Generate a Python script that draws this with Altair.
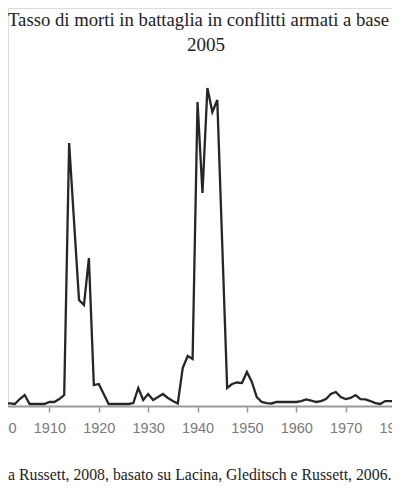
import altair as alt
import pandas as pd

# Estimated battle-death rate (per 100,000 people)
years = list(range(1900, 1982))
rate = [
    0.9, 0.9, 0.5, 0.0, 4.7, 8.5, 0.0, 0.0, 0.0, 0.0,          # 1900-1909
    1.9, 1.9, 4.7, 8.5, 247.8, 172.8, 98.7, 94.0, 138.6, 18.0,  # 1910-1919
    19.0, 9.5, 0.0, 0.0, 0.0, 0.0, 0.0, 0.9, 15.2, 3.8,         # 1920-1929
    9.5, 3.8, 6.6, 9.5, 5.7, 2.8, 0.5, 34.2, 45.6, 42.7,        # 1930-1939
    286.7, 200.3, 300.0, 277.2, 288.6, 151.9, 15.2, 19.0, 20.4, 19.9,  # 1940-1949
    30.4, 20.9, 6.6, 1.9, 0.9, 0.5, 1.9, 1.9, 1.9, 1.9,         # 1950-1959
    1.9, 2.8, 4.3, 3.3, 1.9, 2.8, 4.7, 9.5, 11.4, 6.6,          # 1960-1969
    4.7, 5.7, 8.5, 4.7, 4.3, 2.8, 0.9, 0.0, 2.8, 2.8,           # 1970-1979
    2.4, 3.3,                                                   # 1980-1981
]
tick_years = [1900, 1910, 1920, 1930, 1940, 1950, 1960, 1970, 1980]

title_line1 = "Tasso di morti in battaglia in conflitti armati a base"
title_line2 = "2005"
caption = "a Russett, 2008, basato su Lacina, Gleditsch e Russett, 2006."

df = pd.DataFrame({"anno": years, "tasso": rate})

W = 384
line = alt.Chart(df).mark_line(color="#262626", strokeWidth=2.3, strokeJoin="miter").encode(
    x=alt.X(
        "anno:Q",
        scale=alt.Scale(domain=[1900, 1981], range=[-8, 392], nice=False, zero=False),
        axis=alt.Axis(
            values=tick_years,
            format="d",
            title=None,
            grid=False,
            domainColor="#9a9a9a",
            domainWidth=2,
            tickColor="#9a9a9a",
            tickWidth=1.5,
            tickSize=6,
            labelFont="Liberation Sans",
            labelFontSize=14.5,
            labelColor="#7a7a7a",
            labelPadding=9,
            labelFlush=False,
            labelOverlap=False,
        ),
    ),
    y=alt.Y(
        "tasso:Q",
        scale=alt.Scale(domain=[-1.9, 376], nice=False, zero=False),
        axis=None,
    ),
)

def text_layer(txt, x, y, size, align):
    return alt.Chart(pd.DataFrame({"t": [txt]})).mark_text(
        font="Liberation Serif",
        fontSize=size,
        color="#222222",
        align=align,
        baseline="alphabetic",
    ).encode(x=alt.value(x), y=alt.value(y), text="t:N")

t1 = text_layer(title_line1, 0, 17.7, 18.7, "left")
t2 = text_layer(title_line2, 198, 42.7, 19, "center")
cap = text_layer(caption, 383.5, 471.5, 15.8, "right")

chart = alt.layer(line, t1, t2, cap).properties(
    width=W,
    height=398,
    autosize=alt.AutoSizeParams(type="none"),
    padding={"left": 0, "top": 0, "right": 0, "bottom": 76},
).configure_view(strokeWidth=0).configure(background="white")

chart.save("out.html", embed_options={"renderer": "svg", "actions": False})
